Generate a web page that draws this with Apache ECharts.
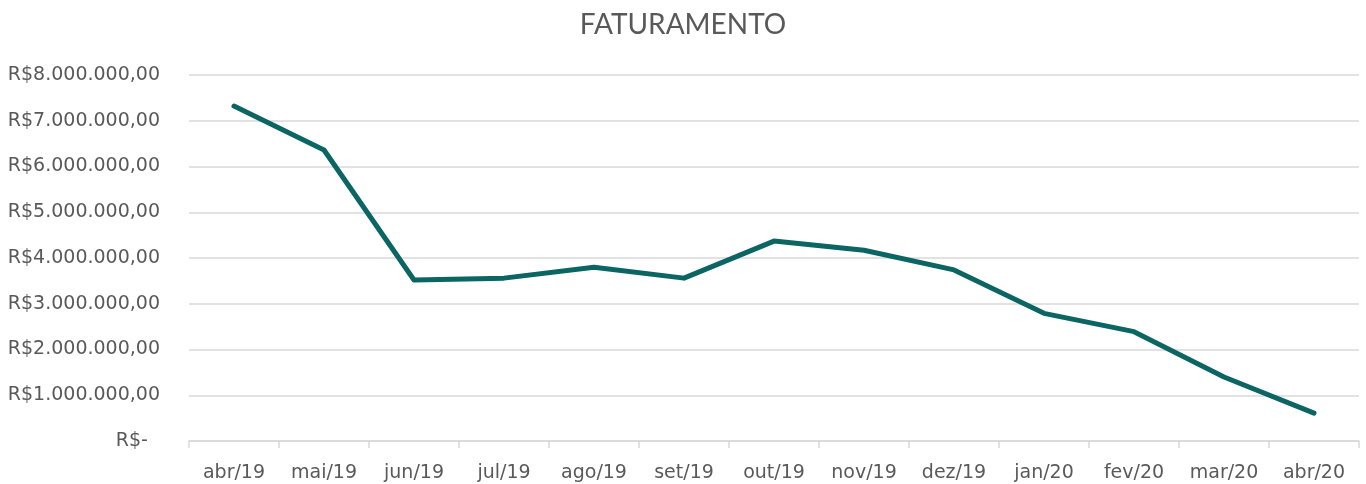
<!DOCTYPE html>
<html>
<head>
<meta charset="utf-8">
<script src="https://cdn.jsdelivr.net/npm/echarts@6/dist/echarts.min.js"></script>
<style>
  html, body { margin: 0; padding: 0; background: #fff; }
  #chart { width: 1366px; height: 484px; }
</style>
</head>
<body>
<div id="chart"></div>
<script>
// dados (faturamento mensal)
const meses = ['abr/19', 'mai/19', 'jun/19', 'jul/19', 'ago/19', 'set/19', 'out/19',
  'nov/19', 'dez/19', 'jan/20', 'fev/20', 'mar/20', 'abr/20'];
const faturamento = [7320000, 6360000, 3520000, 3560000, 3800000, 3560000, 4370000,
  4170000, 3740000, 2790000, 2390000, 1400000, 610000];
const escalaY = [0, 8000000, 1000000]; // min, max, intervalo

// formata número como moeda brasileira
function moeda(v) {
  if (v === 0) return 'R$-  ';
  const inteiro = Math.round(v).toString().replace(/\B(?=(\d{3})+(?!\d))/g, '.');
  return 'R$' + inteiro + ',00';
}

const chart = echarts.init(document.getElementById('chart'));

const option = {
  animation: false,
  textStyle: { fontFamily: '"DejaVu Sans", sans-serif' },
  title: {
    text: 'FATURAMENTO',
    left: 'center',
    top: 6,
    textStyle: { fontSize: 28, fontWeight: 'normal', color: '#595959', fontFamily: 'Lato, sans-serif' }
  },
  grid: { left: 189, right: 7, top: 75, bottom: 43 },
  xAxis: {
    type: 'category',
    data: meses,
    boundaryGap: true,
    axisLine: { lineStyle: { color: '#d9d9d9', width: 1.5 } },
    axisTick: { show: true, length: 7, lineStyle: { color: '#d9d9d9', width: 1.5 } },
    axisLabel: { fontSize: 19, color: '#595959', margin: 23 }
  },
  yAxis: {
    type: 'value',
    min: escalaY[0],
    max: escalaY[1],
    interval: escalaY[2],
    axisLine: { show: false },
    axisTick: { show: false },
    axisLabel: { fontSize: 19, color: '#595959', margin: 29, formatter: moeda },
    splitLine: { lineStyle: { color: '#d9d9d9', width: 1.5 } }
  },
  series: [{
    type: 'line',
    data: faturamento,
    symbol: 'none',
    lineStyle: { color: '#0a6563', width: 5, cap: 'round', join: 'round' }
  }]
};

chart.setOption(option);
</script>
</body>
</html>
